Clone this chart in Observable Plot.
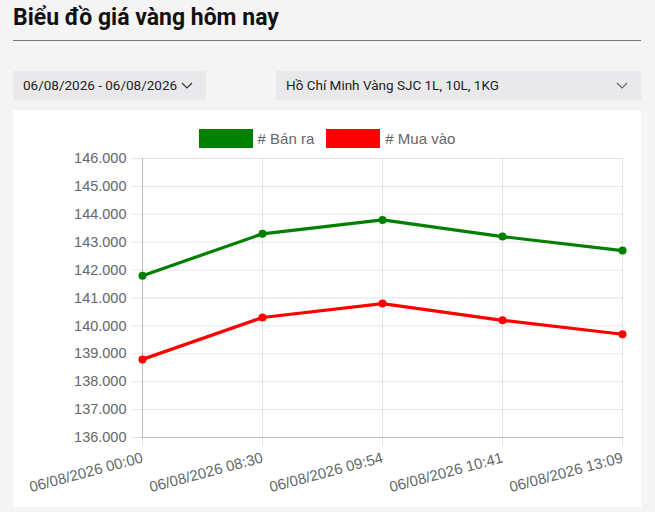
<!DOCTYPE html>
<html>
<head>
<meta charset="utf-8">
<script src="https://cdn.jsdelivr.net/npm/d3@7"></script>
<script src="https://cdn.jsdelivr.net/npm/@observablehq/plot@0.6"></script>
<style>
  body { margin: 0; background: #f4f4f4; width: 655px; height: 512px; position: relative; overflow: hidden; }
  #title { position: absolute; left: 13px; top: 4px; font: 700 23px Roboto, sans-serif; color: #111; line-height: 28px; }
  #rule { position: absolute; left: 13px; top: 40px; width: 628px; height: 1px; background: #777; }
  .sel { position: absolute; top: 71px; height: 29px; background: #e9e9ec; font: 13.5px Roboto, sans-serif; color: #222; line-height: 29px; box-sizing: border-box; padding-left: 10px; }
  .sel svg { position: absolute; top: 11px; }
  #card { position: absolute; left: 13px; top: 110px; width: 628px; height: 397px; background: white; }
  #legend { height: 40px; display: flex; justify-content: center; align-items: center; font: 15px "Liberation Sans", Arial, sans-serif; color: #666; padding-top: 16px; box-sizing: border-box; }
  #legend .sw { display: inline-block; width: 54px; height: 19px; box-sizing: border-box; }
  #legend .item { display: flex; align-items: center; gap: 5px; margin: 0 6px; }
</style>
</head>
<body>
<div id="title">Biểu đồ giá vàng hôm nay</div>
<div id="rule"></div>
<div class="sel" style="left:13px;width:193px">06/08/2026 - 06/08/2026
  <svg width="12" height="8" style="left:168px"><path d="M1 1 L6 6 L11 1" fill="none" stroke="#333" stroke-width="1.1"/></svg>
</div>
<div class="sel" style="left:276px;width:365px">Hồ Chí Minh Vàng SJC 1L, 10L, 1KG
  <svg width="12" height="8" style="left:340px"><path d="M1 1 L6 6 L11 1" fill="none" stroke="#666" stroke-width="1.1"/></svg>
</div>
<div id="card">
  <div id="legend"></div>
  <div id="chart"></div>
</div>
<script>
const times = ["06/08/2026 00:00", "06/08/2026 08:30", "06/08/2026 09:54", "06/08/2026 10:41", "06/08/2026 13:09"];
const banRa = [141800, 143300, 143800, 143200, 142700];
const muaVao = [138800, 140300, 140800, 140200, 139700];
const yTicks = [136000, 137000, 138000, 139000, 140000, 141000, 142000, 143000, 144000, 145000, 146000];
const seriesNames = ["# Bán ra", "# Mua vào"];
const seriesColors = ["#008000", "#ff0000"];

const fmt = d3.formatLocale({decimal: ",", thousands: ".", grouping: [3], currency: ["", ""]}).format(",");

const rows = [];
[banRa, muaVao].forEach((vals, s) => {
  vals.forEach((v, i) => rows.push({time: times[i], value: v, series: seriesNames[s]}));
});

const legend = document.querySelector("#legend");
seriesNames.forEach((name, i) => {
  const item = document.createElement("div");
  item.className = "item";
  item.innerHTML = `<span class="sw" style="background:${seriesColors[i]};border:1px solid ${seriesColors[i]}77"></span><span>${name}</span>`;
  legend.append(item);
});

const plt = Plot.plot({
  width: 628,
  height: 357,
  marginTop: 8,
  marginLeft: 128,
  marginRight: 18,
  marginBottom: 70,
  style: {fontFamily: "'Liberation Sans', Arial, sans-serif", fontSize: "14.5px", color: "#666", background: "white"},
  x: {type: "point", domain: times, padding: 0},
  y: {domain: [136000, 146000]},
  color: {domain: seriesNames, range: seriesColors},
  marks: [
    Plot.gridX(times, {stroke: "#000", strokeOpacity: 0.1}),
    Plot.gridY(yTicks, {stroke: "#000", strokeOpacity: 0.1}),
    Plot.ruleX([times[0]], {stroke: "#000", strokeOpacity: 0.18}),
    Plot.ruleY([136000], {stroke: "#000", strokeOpacity: 0.18}),
    Plot.axisY(yTicks, {tickSize: 10, tickPadding: 5, tickFormat: fmt, label: null, stroke: "#000", strokeOpacity: 0.1, fill: "#666"}),
    Plot.axisX(times, {tickSize: 9, tickPadding: 11, tickRotate: -15, textAnchor: "end", label: null, stroke: "#000", strokeOpacity: 0.1, fill: "#666", fontSize: 15}),
    Plot.line(rows, {x: "time", y: "value", z: "series", stroke: "series", strokeWidth: 3.2}),
    Plot.dot(rows, {x: "time", y: "value", fill: "series", r: 4})
  ]
});
document.querySelector("#chart").append(plt);
</script>
</body>
</html>
